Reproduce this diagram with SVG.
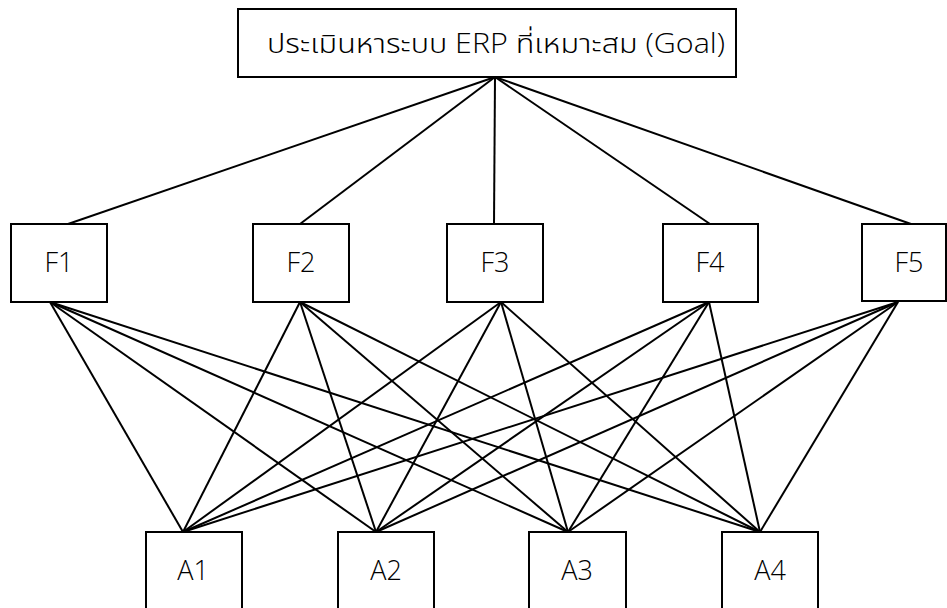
<svg xmlns="http://www.w3.org/2000/svg" width="947" height="608" viewBox="0 0 947 608">
  <style>
    .box { fill: #ffffff; stroke: #000000; stroke-width: 2; }
    .lbl { font-family: "Open Sans", "Noto Sans", "Noto Sans Thai", "Leelawadee UI", Tahoma, sans-serif; font-weight: 300; font-size: 27px; fill: #000000; text-anchor: middle; }
    .goal { font-size: 27px; }
    .edge { stroke: #000000; stroke-width: 2; fill: none; }
  </style>
  <rect width="947" height="608" fill="#ffffff"/>

  <!-- connectors -->
  <g id="connectors" class="edge">
    <!-- goal to criteria -->
    <line x1="495" y1="77" x2="68" y2="224"/>
    <line x1="495" y1="77" x2="300" y2="224"/>
    <line x1="495" y1="77" x2="494" y2="224"/>
    <line x1="495" y1="77" x2="710" y2="224"/>
    <line x1="495" y1="77" x2="911" y2="224"/>
    <!-- F1 to alternatives -->
    <line x1="50" y1="302" x2="183" y2="532"/>
    <line x1="50" y1="302" x2="376" y2="532"/>
    <line x1="50" y1="302" x2="568" y2="532"/>
    <line x1="50" y1="302" x2="760" y2="532"/>
    <!-- F2 to alternatives -->
    <line x1="300" y1="302" x2="183" y2="532"/>
    <line x1="300" y1="302" x2="376" y2="532"/>
    <line x1="300" y1="302" x2="568" y2="532"/>
    <line x1="300" y1="302" x2="760" y2="532"/>
    <!-- F3 to alternatives -->
    <line x1="501" y1="302" x2="183" y2="532"/>
    <line x1="501" y1="302" x2="376" y2="532"/>
    <line x1="501" y1="302" x2="568" y2="532"/>
    <line x1="501" y1="302" x2="760" y2="532"/>
    <!-- F4 to alternatives -->
    <line x1="709" y1="302" x2="183" y2="532"/>
    <line x1="709" y1="302" x2="376" y2="532"/>
    <line x1="709" y1="302" x2="568" y2="532"/>
    <line x1="709" y1="302" x2="760" y2="532"/>
    <!-- F5 to alternatives -->
    <line x1="898" y1="302" x2="183" y2="532"/>
    <line x1="898" y1="302" x2="376" y2="532"/>
    <line x1="898" y1="302" x2="568" y2="532"/>
    <line x1="898" y1="302" x2="760" y2="532"/>
  </g>

  <!-- goal -->
  <g id="goal">
    <rect class="box" x="238" y="9" width="498" height="68"/>
    <text class="lbl goal" x="496" y="53" textLength="458" lengthAdjust="spacingAndGlyphs">ประเมินหาระบบ ERP ที่เหมาะสม (Goal)</text>
  </g>

  <!-- criteria -->
  <g id="F1">
    <rect class="box" x="11" y="224" width="96" height="78"/>
    <text class="lbl" x="59" y="272">F1</text>
  </g>
  <g id="F2">
    <rect class="box" x="253" y="224" width="96" height="78"/>
    <text class="lbl" x="301" y="272">F2</text>
  </g>
  <g id="F3">
    <rect class="box" x="447" y="224" width="96" height="78"/>
    <text class="lbl" x="495" y="272">F3</text>
  </g>
  <g id="F4">
    <rect class="box" x="663" y="224" width="95" height="78"/>
    <text class="lbl" x="710" y="272">F4</text>
  </g>
  <g id="F5">
    <rect class="box" x="862" y="224" width="84" height="77"/>
    <text class="lbl" x="909" y="272">F5</text>
  </g>

  <!-- alternatives -->
  <g id="A1">
    <rect class="box" x="146" y="532" width="96" height="90"/>
    <text class="lbl" x="193" y="580">A1</text>
  </g>
  <g id="A2">
    <rect class="box" x="338" y="532" width="96" height="90"/>
    <text class="lbl" x="386" y="580">A2</text>
  </g>
  <g id="A3">
    <rect class="box" x="529" y="532" width="97" height="90"/>
    <text class="lbl" x="577" y="580">A3</text>
  </g>
  <g id="A4">
    <rect class="box" x="722" y="532" width="96" height="90"/>
    <text class="lbl" x="770" y="580">A4</text>
  </g>
</svg>
